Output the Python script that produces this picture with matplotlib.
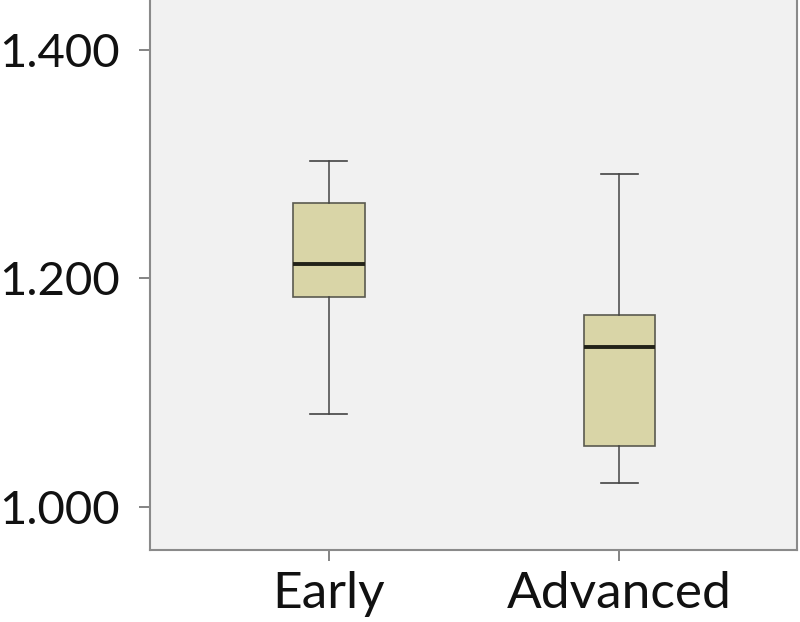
import matplotlib
matplotlib.use("Agg")
import matplotlib.pyplot as plt

categories = ["Early", "Advanced"]
whisker_low = [1.081, 1.021]
q1 = [1.184, 1.0535]
median = [1.213, 1.140]
q3 = [1.266, 1.1675]
whisker_high = [1.3026, 1.2912]
yticks = [1.0, 1.2, 1.4]
ytick_labels = ["1.000", "1.200", "1.400"]

plt.rcParams['font.family'] = ['Lato', 'DejaVu Sans']

fig = plt.figure(figsize=(8, 6.22), dpi=100)
ax = fig.add_axes([0.1875, 0.1158, 0.8085, 0.8842])
ax.set_facecolor('#f1f1f1')

stats = []
for i, c in enumerate(categories):
    stats.append(dict(label=c, whislo=whisker_low[i], q1=q1[i], med=median[i],
                      q3=q3[i], whishi=whisker_high[i], fliers=[]))

ax.bxp(stats, positions=[1, 2], widths=0.247, capwidths=0.127, patch_artist=True,
       showfliers=False,
       boxprops=dict(facecolor='#d9d5a7', edgecolor='#5a5a50', linewidth=1.2),
       medianprops=dict(color='#222218', linewidth=2.8),
       whiskerprops=dict(color='#444444', linewidth=1.1),
       capprops=dict(color='#444444', linewidth=1.2))

ax.set_xlim(0.385, 2.61)
ax.set_ylim(0.962, 1.4439)
ax.set_yticks(yticks)
ax.set_yticklabels(ytick_labels)
ax.set_xticks([1, 2])
ax.set_xticklabels(categories)

for s in ['left', 'bottom', 'right']:
    ax.spines[s].set_color('#8a8a8a')
    ax.spines[s].set_linewidth(1.5)
ax.spines['top'].set_visible(False)
ax.tick_params(axis='both', colors='#707070', length=8, width=1.2,
               labelcolor='#111111')
ax.tick_params(axis='y', pad=14, labelsize=34)
ax.tick_params(axis='x', pad=7, labelsize=37)

fig.savefig("out.png", dpi=100)
